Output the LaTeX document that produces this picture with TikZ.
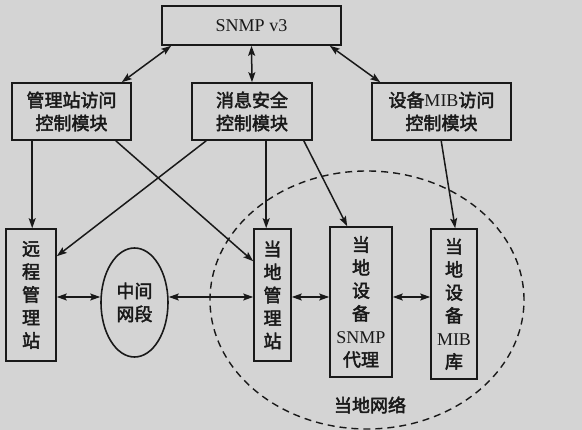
\documentclass[tikz,border=0pt]{standalone}
\usepackage{fontspec}
\setmainfont{Liberation Serif}
\newfontfamily\cjk[FakeBold=2.5]{Noto Sans CJK SC}
\usetikzlibrary{arrows.meta,shapes.geometric}
\definecolor{bgcol}{RGB}{212,212,212}
\definecolor{ink}{RGB}{25,25,25}
\tikzset{
  box/.style={draw=ink,line width=1.6pt,fill=bgcol,inner sep=0pt,align=center,text=ink,font=\fontsize{18}{23}\selectfont},
  tip/.tip={Stealth[length=10pt,width=7pt,inset=2pt]},
  link/.style={draw=ink,line width=1.5pt,-tip},
  dlink/.style={draw=ink,line width=1.5pt,tip-tip},
}
\newcommand{\hz}{\cjk}
\begin{document}
\begin{tikzpicture}[x=1pt,y=-1pt]
\fill[bgcol] (0,0) rectangle (582,430);
\useasboundingbox (0,0) rectangle (582,430);
% local network dashed ellipse
\node[draw=ink,dash pattern=on 7pt off 5pt,line width=1.4pt,ellipse,minimum width=314pt,minimum height=258pt,inner sep=0pt] (lan) at (367,300) {};
\node[font=\fontsize{18}{21}\selectfont\hz,text=ink] (lanlbl) at (370,405) {当地网络};
% top
\node[box,minimum width=179pt,minimum height=39pt,font=\fontsize{18}{21}\selectfont] (snmp) at (251.5,25.5) {SNMP v3};
\node[box,minimum width=119pt,minimum height=57pt] (m1) at (71.5,111.5) {\hz 管理站访问\\\hz 控制模块};
\node[box,minimum width=120pt,minimum height=57pt] (m2) at (252,111.5) {\hz 消息安全\\\hz 控制模块};
\node[box,minimum width=139pt,minimum height=57pt] (m3) at (441.5,111.5) {{\hz 设备}MIB{\hz 访问}\\\hz 控制模块};
% bottom row
\node[box,minimum width=50pt,minimum height=132pt] (r) at (31,295) {\hz 远\\\hz 程\\\hz 管\\\hz 理\\\hz 站};
\node[box,ellipse,minimum width=67pt,minimum height=109pt] (mid) at (134.5,302.5) {\hz 中间\\\hz 网段};
\node[box,minimum width=37pt,minimum height=132pt] (lm) at (272.5,295) {\hz 当\\\hz 地\\\hz 管\\\hz 理\\\hz 站};
\node[box,minimum width=62pt,minimum height=150pt] (ag) at (361,302) {\hz 当\\\hz 地\\\hz 设\\\hz 备\\SNMP\\\hz 代理};
\node[box,minimum width=46pt,minimum height=150pt] (mib) at (454,304) {\hz 当\\\hz 地\\\hz 设\\\hz 备\\MIB\\\hz 库};
% snmp links
\draw[dlink] ([xshift=10pt]snmp.south west) -- ([xshift=-10pt]m1.north east);
\draw[dlink] (snmp.south) -- (m2.north);
\draw[dlink] ([xshift=-12pt]snmp.south east) -- ([xshift=9pt]m3.north west);
% module links
\draw[link] ([xshift=21pt]m1.south west) -- ([xshift=27pt]r.north west);
\draw[link] ([xshift=-16pt]m1.south east) -- ([yshift=-33pt]lm.north west);
\draw[link] ([xshift=15pt]m2.south west) -- ([yshift=-28pt]r.north east);
\draw[link] ([xshift=75pt]m2.south west) -- ([xshift=13pt]lm.north west);
\draw[link] ([xshift=-9pt]m2.south east) -- ([xshift=18pt]ag.north west);
\draw[link] ([xshift=70pt]m3.south west) -- ([xshift=25pt]mib.north west);
% horizontal links
\draw[dlink] (r.east |- 0,297) -- (mid.west |- 0,297);
\draw[dlink] (mid.east |- 0,297) -- (lm.west |- 0,297);
\draw[dlink] (lm.east |- 0,297) -- (ag.west |- 0,297);
\draw[dlink] (ag.east |- 0,297) -- (mib.west |- 0,297);
\end{tikzpicture}
\end{document}
